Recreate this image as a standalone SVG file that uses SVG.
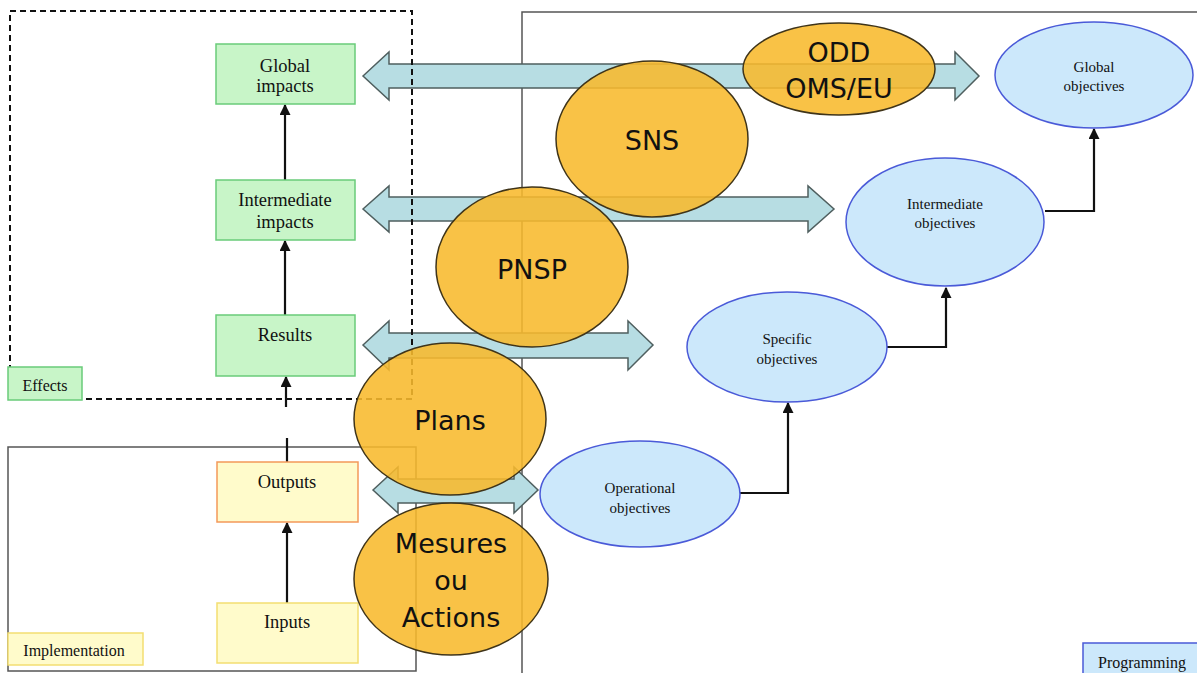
<svg xmlns="http://www.w3.org/2000/svg" width="1197" height="673" viewBox="0 0 1197 673">
<defs>
<style>
.frame{fill:none;stroke:#555;stroke-width:1.5}
.dash{fill:none;stroke:#111;stroke-width:2;stroke-dasharray:6,4}
.green{fill:#c8f5c8;stroke:#6acb7a;stroke-width:1.5}
.yel{fill:#fffbcb;stroke:#f3de72;stroke-width:1.5}
.orbox{fill:#fffbcb;stroke:#f3995a;stroke-width:1.5}
.blue{fill:#cce8fb;stroke:#4a5ad8;stroke-width:1.5}
.big{fill:#b7dde3;stroke:#4f5f5f;stroke-width:1.5}
.orange{fill:#f8b92c;fill-opacity:0.88;stroke:#3f3419;stroke-width:1.5}
.conn{fill:none;stroke:#111;stroke-width:2.2}
.t{font-family:"Liberation Serif","Times New Roman",serif;fill:#111;text-anchor:middle}
.ts{font-family:"DejaVu Sans",Verdana,sans-serif;fill:#111;text-anchor:middle;font-size:27px}
</style>
<marker id="ah" viewBox="0 0 10 10" refX="9" refY="5" markerWidth="5" markerHeight="5" orient="auto" markerUnits="strokeWidth">
<path d="M0,0 L10,5 L0,10 z" fill="#111"/>
</marker>
</defs>

<g id="programming-frame"><rect class="frame" x="522" y="12" width="690" height="680"/></g>
<g id="implementation-frame"><rect class="frame" x="8" y="447" width="408" height="224"/></g>

<g id="big-arrows">
<polygon class="big" points="363,76 389,52 389,64 955,64 955,52 979,76 955,100 955,88 389,88 389,100"/>
<polygon class="big" points="363,209 389,186 389,197 808,197 808,186 834,209 808,232 808,221 389,221 389,232"/>
<polygon class="big" points="363,345 389,321 389,333 628,333 628,321 653,345 628,370 628,358 389,358 389,370"/>
<polygon class="big" points="373,490 398,467 398,479 514,479 514,467 538,490 514,513 514,503 398,503 398,513"/>
</g>

<g id="effects-frame"><rect class="dash" x="10" y="11" width="402" height="388"/></g>

<g id="effects-label"><rect class="green" x="8" y="367" width="74" height="33"/><text class="t" x="45" y="391" font-size="16">Effects</text></g>
<g id="implementation-label"><rect class="yel" x="8" y="633" width="135" height="32"/><text class="t" x="74" y="656" font-size="16">Implementation</text></g>
<g id="programming-label"><rect class="blue" x="1083" y="643" width="130" height="40"/><text class="t" x="1142" y="668" font-size="16">Programming</text></g>

<g id="connectors">
<line class="conn" x1="285" y1="180" x2="285" y2="105" marker-end="url(#ah)"/>
<line class="conn" x1="285" y1="315" x2="285" y2="241" marker-end="url(#ah)"/>
<line class="conn" x1="287" y1="462" x2="287" y2="438"/>
<line class="conn" x1="286" y1="407" x2="286" y2="377" marker-end="url(#ah)"/>
<line class="conn" x1="287" y1="603" x2="287" y2="523" marker-end="url(#ah)"/>
<polyline class="conn" points="739,493 788,493 788,403" marker-end="url(#ah)"/>
<polyline class="conn" points="887,347 946,347 946,288" marker-end="url(#ah)"/>
<polyline class="conn" points="1045,211 1094,211 1094,129" marker-end="url(#ah)"/>
</g>

<g id="global-impacts"><rect class="green" x="216" y="44" width="139" height="60"/><text class="t" x="285" y="72" font-size="18.5">Global</text><text class="t" x="285" y="92" font-size="18.5">impacts</text></g>
<g id="intermediate-impacts"><rect class="green" x="216" y="180" width="139" height="60"/><text class="t" x="285" y="206" font-size="18.5">Intermediate</text><text class="t" x="285" y="228" font-size="18.5">impacts</text></g>
<g id="results"><rect class="green" x="216" y="315" width="139" height="61"/><text class="t" x="285" y="341" font-size="18.5">Results</text></g>
<g id="outputs"><rect class="orbox" x="217" y="462" width="141" height="60"/><text class="t" x="287" y="488" font-size="18.5">Outputs</text></g>
<g id="inputs"><rect class="yel" x="217" y="603" width="141" height="60"/><text class="t" x="287" y="628" font-size="18.5">Inputs</text></g>

<g id="global-objectives"><ellipse class="blue" cx="1094" cy="75" rx="99" ry="53"/><text class="t" x="1094" y="72" font-size="15">Global</text><text class="t" x="1094" y="91" font-size="15">objectives</text></g>
<g id="intermediate-objectives"><ellipse class="blue" cx="945" cy="222" rx="99" ry="64"/><text class="t" x="945" y="209" font-size="15">Intermediate</text><text class="t" x="945" y="228" font-size="15">objectives</text></g>
<g id="specific-objectives"><ellipse class="blue" cx="787" cy="347" rx="100" ry="55"/><text class="t" x="787" y="344" font-size="15">Specific</text><text class="t" x="787" y="364" font-size="15">objectives</text></g>
<g id="operational-objectives"><ellipse class="blue" cx="640" cy="494" rx="100" ry="53"/><text class="t" x="640" y="493" font-size="15">Operational</text><text class="t" x="640" y="513" font-size="15">objectives</text></g>

<g id="odd"><ellipse class="orange" cx="839" cy="69" rx="96" ry="46"/><text class="ts" x="839" y="62" font-size="28">ODD</text><text class="ts" x="839" y="98" font-size="28">OMS/EU</text></g>
<g id="sns"><ellipse class="orange" cx="652" cy="139" rx="96" ry="78"/><text class="ts" x="652" y="150">SNS</text></g>
<g id="pnsp"><ellipse class="orange" cx="532" cy="267" rx="96" ry="80"/><text class="ts" x="532" y="279">PNSP</text></g>
<g id="plans"><ellipse class="orange" cx="450" cy="419" rx="96" ry="76"/><text class="ts" x="450" y="430">Plans</text></g>
<g id="mesures"><ellipse class="orange" cx="451" cy="579" rx="97" ry="76"/><text class="ts" x="451" y="553">Mesures</text><text class="ts" x="451" y="590">ou</text><text class="ts" x="451" y="627">Actions</text></g>
</svg>
